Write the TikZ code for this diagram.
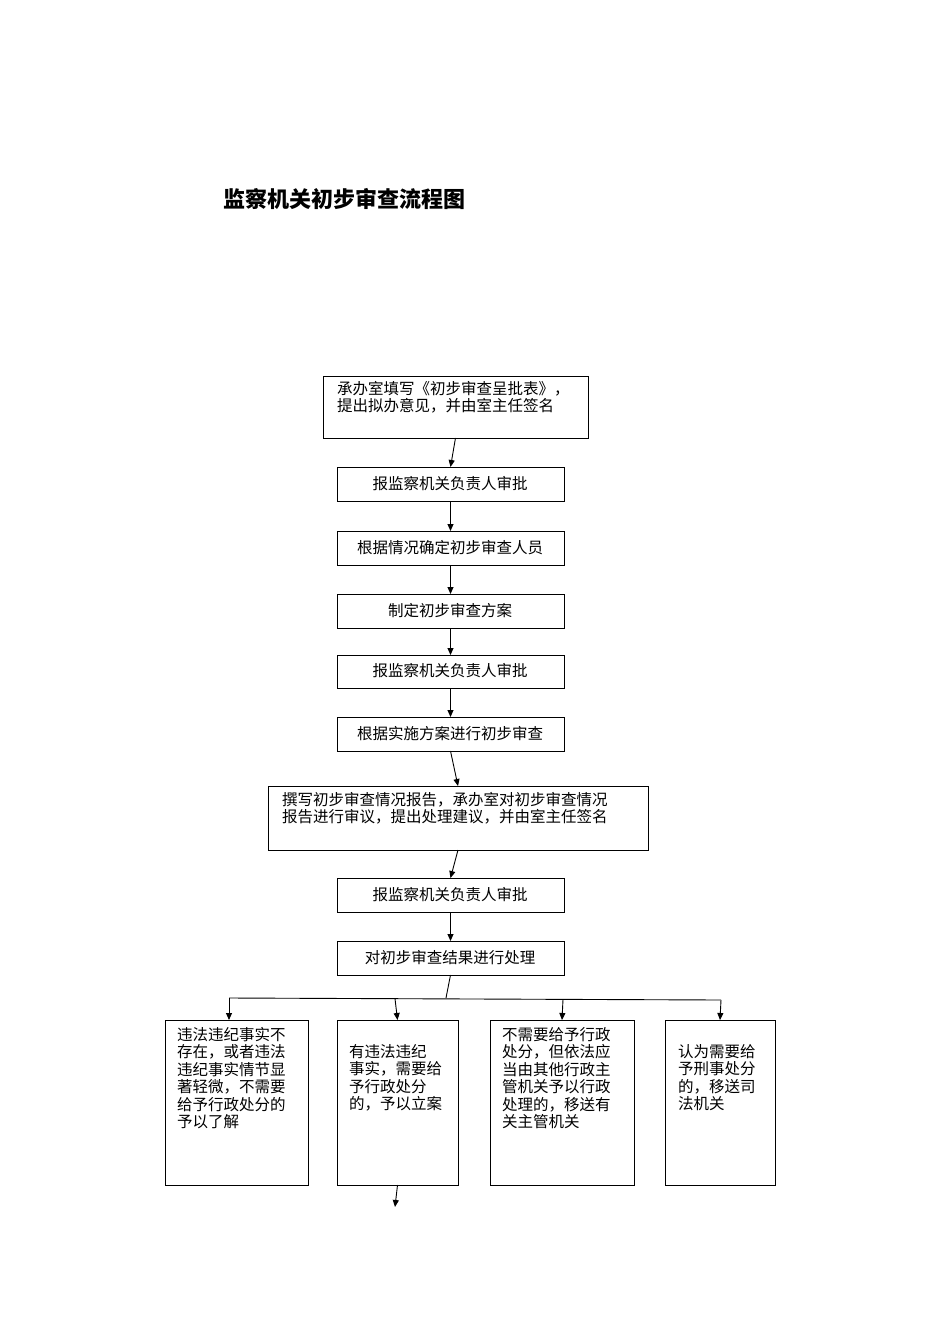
\documentclass[tikz,border=0pt]{standalone}
\usepackage{fontspec}
\setmainfont{Noto Sans CJK SC}
\usetikzlibrary{arrows.meta}
\begin{document}
\begin{tikzpicture}[x=1pt,y=-1pt,
  bx/.style={draw,line width=1pt,inner sep=0pt},
  tx/.style={font=\fontsize{15.5}{17.5}\selectfont,align=left,anchor=north west,inner sep=0pt},
  ar/.style={-{Triangle[length=7pt,width=6pt]},line width=0.9pt},
  ln/.style={line width=0.9pt}]
\useasboundingbox (0,0) rectangle (950,1344);
\node[font=\fontsize{22}{24}\selectfont\bfseries,anchor=west] (title) at (220,199) {监察机关初步审查流程图};
\def\mybox#1#2#3#4#5{\path[bx] (#2,#3) rectangle (#4,#5) node[pos=0.5] (#1) {}; \draw[line width=1pt] (#2,#3) rectangle (#4,#5);
  \coordinate (#1t) at ({(#2+#4)/2},#3); \coordinate (#1b) at ({(#2+#4)/2},#5);}
\mybox{b1}{323}{376}{588}{438}
\mybox{b2}{337}{467}{564}{501}
\mybox{b3}{337}{531}{564}{565}
\mybox{b4}{337}{594}{564}{628}
\mybox{b5}{337}{655}{564}{688}
\mybox{b6}{337}{717}{564}{751}
\mybox{b7}{268}{786}{648}{850}
\mybox{b8}{337}{878}{564}{912}
\mybox{b9}{337}{941}{564}{975}
\mybox{c1}{165}{1020}{308}{1185}
\mybox{c2}{337}{1020}{458}{1185}
\mybox{c3}{490}{1020}{634}{1185}
\mybox{c4}{665}{1020}{775}{1185}
\node[tx] (t1) at (337,381) {承办室填写《初步审查呈批表》，\\提出拟办意见，并由室主任签名};
\node[font=\fontsize{15.5}{17.5}\selectfont] (t2) at (450,484) {报监察机关负责人审批};
\node[font=\fontsize{15.5}{17.5}\selectfont] (t3) at (450,548) {根据情况确定初步审查人员};
\node[font=\fontsize{15.5}{17.5}\selectfont] (t4) at (450,611) {制定初步审查方案};
\node[font=\fontsize{15.5}{17.5}\selectfont] (t5) at (450,671) {报监察机关负责人审批};
\node[font=\fontsize{15.5}{17.5}\selectfont] (t6) at (450,734) {根据实施方案进行初步审查};
\node[tx] (t7) at (282,792) {撰写初步审查情况报告，承办室对初步审查情况\\报告进行审议，提出处理建议，并由室主任签名};
\node[font=\fontsize{15.5}{17.5}\selectfont] (t8) at (450,895) {报监察机关负责人审批};
\node[font=\fontsize{15.5}{17.5}\selectfont] (t9) at (450,958) {对初步审查结果进行处理};
\node[tx] (u1) at (177,1027) {违法违纪事实不\\存在，或者违法\\违纪事实情节显\\著轻微，不需要\\给予行政处分的\\予以了解};
\node[tx] (u2) at (349,1044) {有违法违纪\\事实，需要给\\予行政处分\\的，予以立案};
\node[tx] (u3) at (502,1027) {不需要给予行政\\处分，但依法应\\当由其他行政主\\管机关予以行政\\处理的，移送有\\关主管机关};
\node[tx] (u4) at (678,1044) {认为需要给\\予刑事处分\\的，移送司\\法机关};
\draw[ar] (b1b)--(b2t);
\draw[ar] (b2b)--(b3t);
\draw[ar] (b3b)--(b4t);
\draw[ar] (b4b)--(b5t);
\draw[ar] (b5b)--(b6t);
\draw[ar] (b6b)--(b7t);
\draw[ar] (b7b)--(b8t);
\draw[ar] (b8b)--(b9t);
\coordinate (j) at (446,998);
\draw[ln] (b9b)--(j);
\coordinate (jl) at (229,998); \coordinate (jr) at (721,1000);
\draw[ln] (jl)--(jr);
\draw[ar] (jl)--(229,1020);
\draw[ar] (395,998.7)--(c2t);
\draw[ar] (563,999.4)--(c3t|-c3t);
\draw[ar] (jr)--(c4t);
\coordinate (e) at (395,1207);
\draw[ar] (c2b)--(e);
\end{tikzpicture}
\end{document}
